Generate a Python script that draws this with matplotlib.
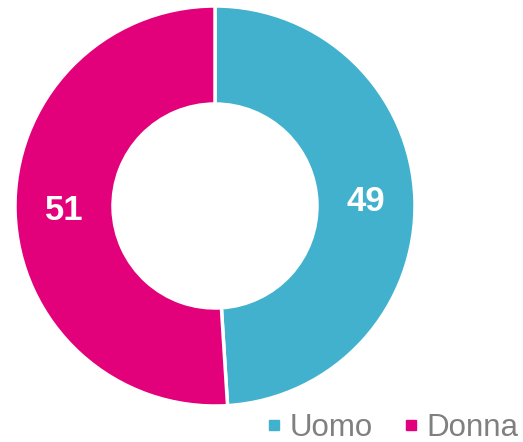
import numpy as np
import matplotlib.pyplot as plt
from matplotlib.lines import Line2D

labels = ['Uomo', 'Donna']
values = [49, 51]
colors = ['#41B1CD', '#E3007B']

plt.rcParams['font.family'] = ['Liberation Sans', 'DejaVu Sans']

fig = plt.figure(figsize=(5.23, 4.42), dpi=100)
ax = fig.add_axes([15 / 523, 36 / 442, 400 / 523, 400 / 442])

ring = 0.49
wedges, _ = ax.pie(values, colors=colors, startangle=90, counterclock=False,
                   radius=1, wedgeprops=dict(width=ring, edgecolor='white', linewidth=2.5))
ax.set_xlim(-1, 1)
ax.set_ylim(-1, 1)

# value labels sit in the middle of the ring
r = 1 - ring / 2
start = 90
for v in values:
    mid = np.deg2rad(start - v / sum(values) * 360 / 2)
    ax.text(r * np.cos(mid), r * np.sin(mid), str(v), color='white',
            fontsize=25, fontweight='bold', ha='center', va='center')
    start -= v / sum(values) * 360

handles = [Line2D([], [], marker='s', linestyle='none', markersize=7.5,
                  markerfacecolor=c, markeredgecolor=c) for c in colors]
fig.legend(handles, labels, loc='lower right', bbox_to_anchor=(1.015, -0.03), ncol=2,
           frameon=False, fontsize=22.5, labelcolor='#808080',
           handletextpad=0.1, columnspacing=0.8, handlelength=0.8, borderaxespad=0.0)

fig.savefig('out.png', dpi=100, facecolor='white')
